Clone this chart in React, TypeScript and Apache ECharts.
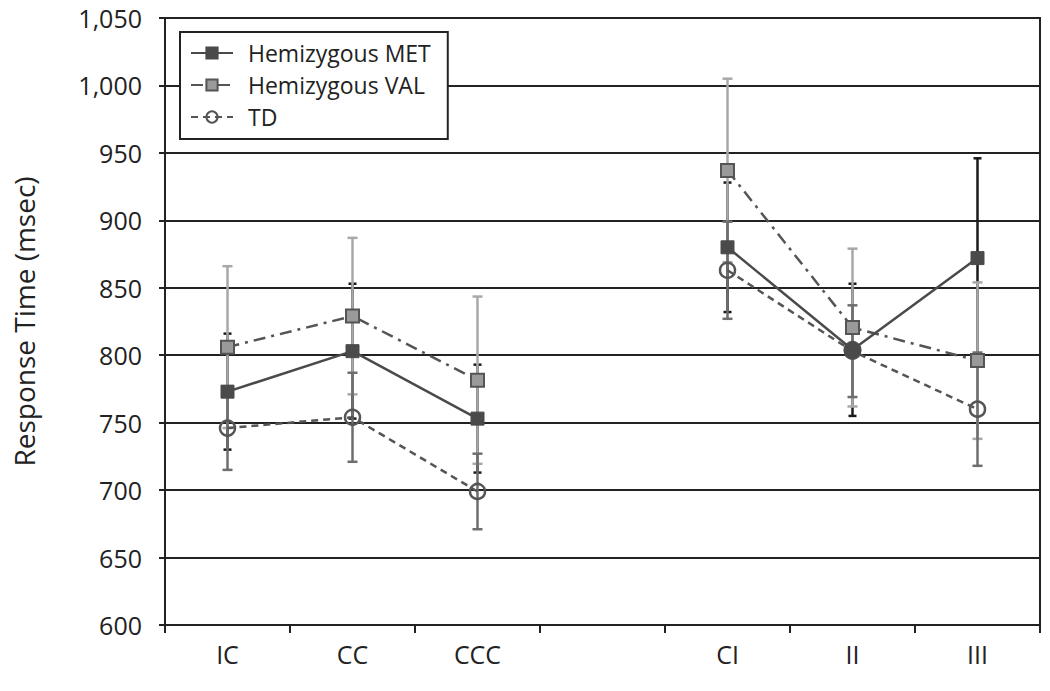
import React, { useEffect, useRef } from "react";
import * as echarts from "echarts";

const categories = ["IC", "CC", "CCC", "", "CI", "II", "III"];
const seriesNames = ["Hemizygous MET", "Hemizygous VAL", "TD"];
const metValues = [773, 803, 753, null, 880, 804, 872];
const metErrors = [43, 50, 40, null, 48, 49, 74];
const valValues = [806, 829, 781.5, null, 937, 820.5, 796];
const valErrors = [60, 58, 62, null, 68, 58.5, 58];
const tdValues = [746, 754, 699, null, 863, 803, 760];
const tdErrors = [31, 33, 28, null, 36, 34, 42];
const yTicks = [600, 650, 700, 750, 800, 850, 900, 950, 1000, 1050];

const FONT = "'Open Sans', 'Noto Sans', sans-serif";

function errorData(vals: (number | null)[], errs: (number | null)[]) {
  const out: number[][] = [];
  vals.forEach((v, i) => {
    if (v != null && errs[i] != null) out.push([i, v - (errs[i] as number), v + (errs[i] as number)]);
  });
  return out;
}

function errorSeries(name: string, vals: (number | null)[], errs: (number | null)[], color: string, capW: number, z: number) {
  return {
    type: "custom",
    name,
    z,
    silent: true,
    data: errorData(vals, errs),
    renderItem: (params: any, api: any) => {
      const lo = api.coord([api.value(0), api.value(1)]);
      const hi = api.coord([api.value(0), api.value(2)]);
      const style = { stroke: color, lineWidth: 2.5 };
      return {
        type: "group",
        children: [
          { type: "line", shape: { x1: lo[0], y1: lo[1], x2: hi[0], y2: hi[1] }, style },
          { type: "line", shape: { x1: hi[0] - capW, y1: hi[1], x2: hi[0] + capW, y2: hi[1] }, style },
          { type: "line", shape: { x1: lo[0] - capW, y1: lo[1], x2: lo[0] + capW, y2: lo[1] }, style },
        ],
      };
    },
  };
}

export default function App() {
  const ref = useRef<HTMLDivElement>(null);
  useEffect(() => {
    if (!ref.current) return;
    const chart = echarts.init(ref.current, null, { renderer: "svg" });
    const metData = metValues.map((v, i) =>
      i === 5 && v != null ? { value: v, symbol: "circle", symbolSize: 17 } : v
    );
    chart.setOption({
      animation: false,
      backgroundColor: "#fff",
      textStyle: { fontFamily: FONT },
      grid: {
        left: 165,
        right: 10,
        top: 18,
        bottom: 66,
        show: true,
        containLabel: false,
        outerBoundsMode: "none",
        borderColor: "#222",
        borderWidth: 2,
        backgroundColor: "transparent",
      },
      legend: {
        data: seriesNames,
        orient: "vertical",
        left: 180,
        top: 32,
        padding: [9, 17, 10, 10],
        itemGap: 8,
        itemWidth: 42,
        itemHeight: 14,
        backgroundColor: "#fff",
        borderColor: "#222",
        borderWidth: 2,
        borderRadius: 0,
        textStyle: { fontSize: 23, color: "#222", fontFamily: FONT, lineHeight: 24, padding: [0, 0, 0, 10] },
      },
      xAxis: {
        type: "category",
        data: categories,
        boundaryGap: true,
        axisLine: { lineStyle: { color: "#222", width: 2 } },
        axisTick: { show: true, length: 8, lineStyle: { color: "#222", width: 2 } },
        axisLabel: { fontSize: 25, color: "#222", margin: 16, fontFamily: FONT },
        splitLine: { show: false },
      },
      yAxis: {
        type: "value",
        min: 600,
        max: 1050,
        interval: 50,
        name: "Response Time (msec)",
        nameLocation: "middle",
        nameRotate: 90,
        nameGap: 127,
        nameTextStyle: { fontSize: 28, color: "#222", fontFamily: FONT },
        axisLine: { show: true, lineStyle: { color: "#222", width: 2 } },
        axisTick: { show: true, length: 6, lineStyle: { color: "#222", width: 2 } },
        axisLabel: {
          fontSize: 25,
          color: "#222",
          margin: 23,
          fontFamily: FONT,
          formatter: (v: number) => (yTicks.includes(v) ? v.toLocaleString("en-US") : ""),
        },
        splitLine: { show: true, lineStyle: { color: "#222", width: 2 } },
      },
      series: [
        errorSeries("MET err", metValues, metErrors, "#1a1a1a", 4, 1),
        errorSeries("VAL err", valValues, valErrors, "#a8a8a8", 5, 2),
        errorSeries("TD err", tdValues, tdErrors, "#6e6e6e", 5, 3),
        {
          type: "line",
          name: seriesNames[0],
          data: metData,
          z: 6,
          connectNulls: false,
          symbol: "rect",
          symbolSize: 13,
          lineStyle: { color: "#4a4a4a", width: 2.5, type: "solid" },
          itemStyle: { color: "#4a4a4a", borderColor: "#4a4a4a", borderWidth: 1 },
        },
        {
          type: "line",
          name: seriesNames[1],
          data: valValues,
          z: 5,
          connectNulls: false,
          symbol: "rect",
          symbolSize: 13,
          lineStyle: { color: "#555", width: 2.5, type: [12, 6, 3, 6] },
          itemStyle: { color: "#9a9a9a", borderColor: "#555", borderWidth: 2 },
        },
        {
          type: "line",
          name: seriesNames[2],
          data: tdValues,
          z: 5,
          connectNulls: false,
          symbol: "circle",
          symbolSize: 15,
          lineStyle: { color: "#555", width: 2.5, type: [7, 5] },
          itemStyle: { color: "rgba(255,255,255,0)", borderColor: "#555", borderWidth: 2.5 },
        },
      ],
    });
    return () => chart.dispose();
  }, []);
  return (
    <div
      ref={ref}
      style={{ position: "fixed", left: 0, top: 0, width: 1050, height: 691, background: "#fff" }}
    />
  );
}
